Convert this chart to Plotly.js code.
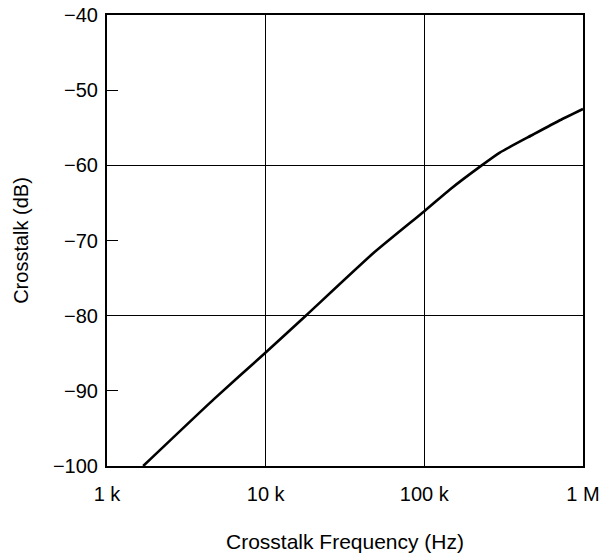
<!DOCTYPE html>
<html>
<head>
<meta charset="utf-8">
<script src="https://cdn.plot.ly/plotly-3.0.1.min.js"></script>
<style>html,body{margin:0;padding:0;background:#fff;}#chart{width:603px;height:558px;}</style>
</head>
<body>
<div id="chart"></div>
<script>
const frequencyHz = [1690, 4720, 10000, 17900, 47600, 100000, 145000, 230000, 299000, 485000, 715000, 1000000];
const crosstalkDb = [-100, -91.1, -84.9, -80, -71.7, -66.1, -63.2, -60, -58.3, -55.9, -54.0, -52.5];
const xTickVals = [1000, 10000, 100000, 1000000];
const xTickText = ['1 k', '10 k', '100 k', '1 M'];
const yGridVals = [-100, -80, -60, -40];

const font = {family: 'Liberation Sans, Arial, sans-serif', size: 20, color: '#000'};
const titleFont = {family: 'Liberation Sans, Arial, sans-serif', size: 21, color: '#000'};

Plotly.newPlot('chart', [
  {x: frequencyHz, y: crosstalkDb, type: 'scatter', mode: 'lines',
   line: {color: '#000', width: 2.6, shape: 'spline', smoothing: 0.5}, hoverinfo: 'skip', showlegend: false},
  {x: frequencyHz, y: crosstalkDb, type: 'scatter', mode: 'none', yaxis: 'y2', hoverinfo: 'skip', showlegend: false}
], {
  width: 603, height: 558,
  margin: {l: 107, r: 20, t: 15, b: 92},
  paper_bgcolor: '#fff', plot_bgcolor: '#fff',
  font: font,
  showlegend: false,
  xaxis: {
    type: 'log', range: [3, 6], tickvals: xTickVals, ticktext: xTickText,
    showgrid: true, gridcolor: '#000', gridwidth: 1,
    showline: true, linecolor: '#000', linewidth: 2, mirror: true,
    ticks: '', ticklabelstandoff: 9, zeroline: false,
    title: {text: 'Crosstalk Frequency (Hz)', font: titleFont, standoff: 30}
  },
  yaxis: {
    range: [-100, -40], dtick: 10, tick0: -100,
    showgrid: false, zeroline: false,
    showline: true, linecolor: '#000', linewidth: 2, mirror: true,
    ticks: 'inside', ticklen: 11, tickwidth: 1, tickcolor: '#000',
    ticklabelstandoff: 3,
    title: {text: 'Crosstalk (dB)', font: font, standoff: 19}
  },
  yaxis2: {
    overlaying: 'y', range: [-100, -40], tickvals: yGridVals,
    showgrid: true, gridcolor: '#000', gridwidth: 1,
    showticklabels: false, ticks: '', zeroline: false, showline: false
  }
}, {staticPlot: true});
</script>
</body>
</html>
